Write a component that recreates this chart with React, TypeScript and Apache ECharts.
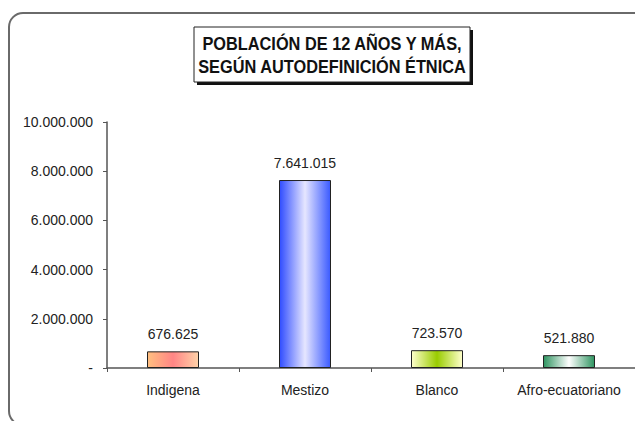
import React, { useEffect, useRef } from "react";
import * as echarts from "echarts";

const categories = ["Indigena", "Mestizo", "Blanco", "Afro-ecuatoriano"];
const values = [676625, 7641015, 723570, 521880];
const yTicks = [0, 2000000, 4000000, 6000000, 8000000, 10000000];
const titleLines = ["POBLACIÓN DE 12 AÑOS Y MÁS,", "SEGÚN AUTODEFINICIÓN ÉTNICA"];

const gradients = [
  ["#FFC080", "#FF8585", "#FFD2A8"],
  ["#2F4CFF", "#E6E6FF", "#3A5AFF"],
  ["#FFFFCC", "#99CC00", "#FFFFCC"],
  ["#2E9460", "#FFFFFF", "#2E9460"],
];

function fmt(v: number): string {
  if (v === 0) return "-";
  return String(Math.round(v)).replace(/\B(?=(\d{3})+(?!\d))/g, ".");
}

export default function App() {
  const ref = useRef<HTMLDivElement>(null);
  useEffect(() => {
    if (!ref.current) return;
    const chart = echarts.init(ref.current, null, { renderer: "svg" });
    const font = "'Liberation Sans', Arial, sans-serif";
    const titleFont = "bold 19px 'Liberation Sans', Arial, sans-serif";
    chart.setOption({
      animation: false,
      backgroundColor: "#ffffff",
      grid: { left: 107, top: 122, width: 532, bottom: 53 },
      xAxis: {
        type: "category",
        data: categories,
        axisLine: { lineStyle: { color: "#555", width: 1.5 } },
        axisTick: { show: true, length: 4, lineStyle: { color: "#555" } },
        axisLabel: {
          color: "#222",
          fontSize: 14,
          fontFamily: font,
          margin: 15,
          interval: 0,
          hideOverlap: false,
        },
      },
      yAxis: {
        type: "value",
        min: yTicks[0],
        max: yTicks[yTicks.length - 1],
        interval: 2000000,
        splitLine: { show: false },
        axisLine: { show: true, lineStyle: { color: "#555", width: 1.5 } },
        axisTick: { show: true, length: 4, lineStyle: { color: "#555" } },
        axisLabel: {
          color: "#222",
          fontSize: 14,
          fontFamily: font,
          margin: 14,
          formatter: (v: number) => fmt(v),
        },
      },
      series: [
        {
          type: "bar",
          barWidth: 52,
          data: values.map((v, i) => ({
            value: v,
            itemStyle: {
              color: new echarts.graphic.LinearGradient(0, 0, 1, 0, [
                { offset: 0, color: gradients[i][0] },
                { offset: 0.5, color: gradients[i][1] },
                { offset: 1, color: gradients[i][2] },
              ]),
              borderColor: "#222",
              borderWidth: 1,
            },
          })),
          label: {
            show: true,
            position: "top",
            distance: 10,
            color: "#222",
            fontSize: 14,
            fontFamily: font,
            formatter: (p: any) => fmt(p.value),
          },
        },
      ],
      graphic: [
        {
          type: "rect",
          shape: { x: 9, y: 13, width: 640, height: 412, r: 14 },
          style: { fill: "none", stroke: "#6a6a6a", lineWidth: 2 },
          z: 0,
        },
        {
          type: "rect",
          shape: { x: 197, y: 30, width: 276, height: 55 },
          style: { fill: "#111", stroke: "none" },
          z: 10,
        },
        {
          type: "rect",
          shape: { x: 194, y: 27, width: 276, height: 55 },
          style: { fill: "#fff", stroke: "#222", lineWidth: 1 },
          z: 11,
        },
        {
          type: "text",
          x: 332,
          y: 44,
          scaleX: 0.86,
          z: 12,
          style: {
            text: titleLines[0],
            fill: "#111",
            font: titleFont,
            align: "center",
            verticalAlign: "middle",
          },
        },
        {
          type: "text",
          x: 332,
          y: 67,
          scaleX: 0.86,
          z: 12,
          style: {
            text: titleLines[1],
            fill: "#111",
            font: titleFont,
            align: "center",
            verticalAlign: "middle",
          },
        },
      ],
    });
    return () => chart.dispose();
  }, []);
  return (
    <div
      ref={ref}
      style={{ position: "fixed", left: 0, top: 0, width: 635, height: 421 }}
    />
  );
}
